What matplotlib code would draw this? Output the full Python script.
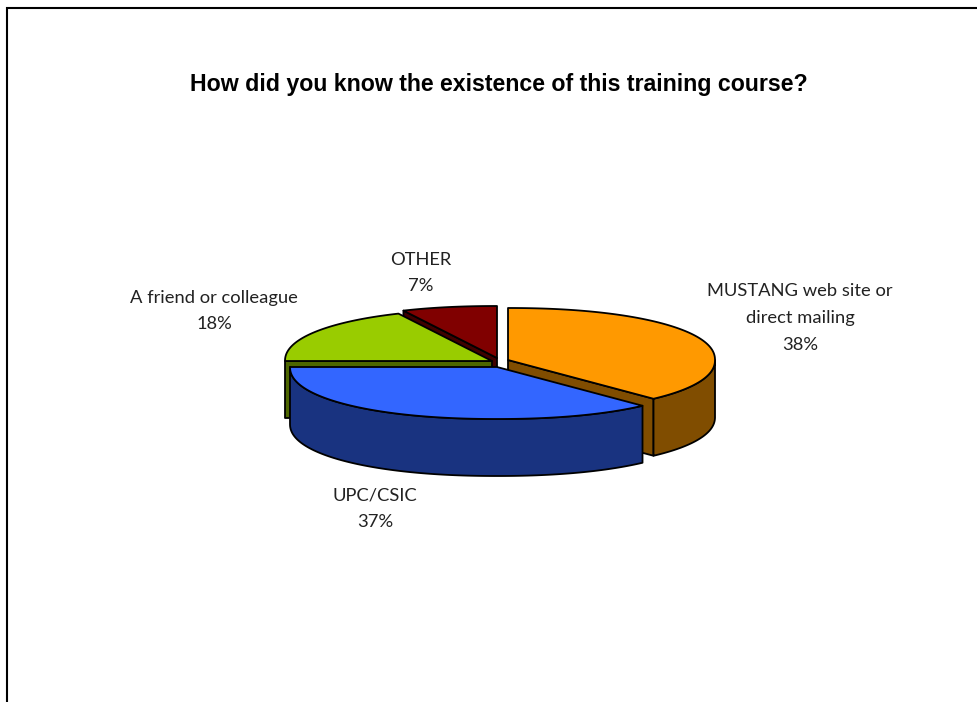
import numpy as np
import matplotlib
matplotlib.use("Agg")
import matplotlib.pyplot as plt
from matplotlib.patches import Polygon

# survey answers
labels = ["MUSTANG web site or\ndirect mailing", "UPC/CSIC", "A friend or colleague", "OTHER"]
values = [38, 37, 18, 7]

top_colors = ["#FF9900", "#3366FF", "#99CC00", "#800000"]
side_colors = ["#804D00", "#193380", "#4D6600", "#400000"]

# exploded centre of each slice, and pie shape
centers = [(508, 360), (497, 367), (492, 361), (497, 358)]
rx, ry = 207, 52
depth = 57
squareness = 0.93

label_pos = [(800, 318), (375, 509), (214, 311), (421, 273)]

fig = plt.figure(figsize=(9.78, 7.02), dpi=100)
ax = fig.add_axes([0, 0, 1, 1])
ax.set_xlim(0, 978)
ax.set_ylim(702, 0)
ax.axis("off")

# frame, only top and left are in view
ax.plot([7, 7, 990], [720, 8, 8], color="black", lw=1.5, solid_joinstyle="miter")

ax.text(499, 85, "How did you know the existence of this training course?",
        ha="center", va="center", fontsize=16.7, fontweight="bold", family="Liberation Sans")


def rim(c, t):
    # slightly boxy ellipse, the pie outline is not a true one
    sx = np.sign(np.sin(t)) * np.abs(np.sin(t)) ** squareness
    cy = np.sign(np.cos(t)) * np.abs(np.cos(t)) ** squareness
    return np.column_stack([c[0] + rx * sx, c[1] - ry * cy])


def add_poly(pts, color):
    ax.add_patch(Polygon(pts, closed=True, facecolor=color, edgecolor="black", lw=1.3, joinstyle="round"))


fracs = np.array(values) / sum(values)
ends = np.cumsum(fracs) * 2 * np.pi
starts = ends - fracs * 2 * np.pi

# back slices first so the front ones cover them
for i in [3, 0, 2, 1]:
    c = centers[i]
    a0, a1 = starts[i], ends[i]
    down = np.array([0, depth])

    # cut faces
    if np.sin(a0) < -1e-6:
        edge = rim(c, np.array([a0]))[0]
        add_poly([c, edge, edge + down, np.array(c) + down], side_colors[i])
    if np.sin(a1) > 1e-6:
        edge = rim(c, np.array([a1]))[0]
        add_poly([c, edge, edge + down, np.array(c) + down], side_colors[i])

    # outer wall, front half of the rim only
    w0, w1 = max(a0, np.pi / 2), min(a1, 3 * np.pi / 2)
    if w1 > w0:
        t = np.linspace(w0, w1, 120)
        arc = rim(c, t)
        add_poly(np.vstack([arc, arc[::-1] + down]), side_colors[i])

    # top face
    t = np.linspace(a0, a1, 200)
    add_poly(np.vstack([[c], rim(c, t)]), top_colors[i])

for lab, val, pos in zip(labels, values, label_pos):
    ax.text(pos[0], pos[1], f"{lab}\n{val}%", ha="center", va="center",
            fontsize=13.2, family="Lato", linespacing=1.82, color="#222222")

fig.savefig("out.png", dpi=100)
